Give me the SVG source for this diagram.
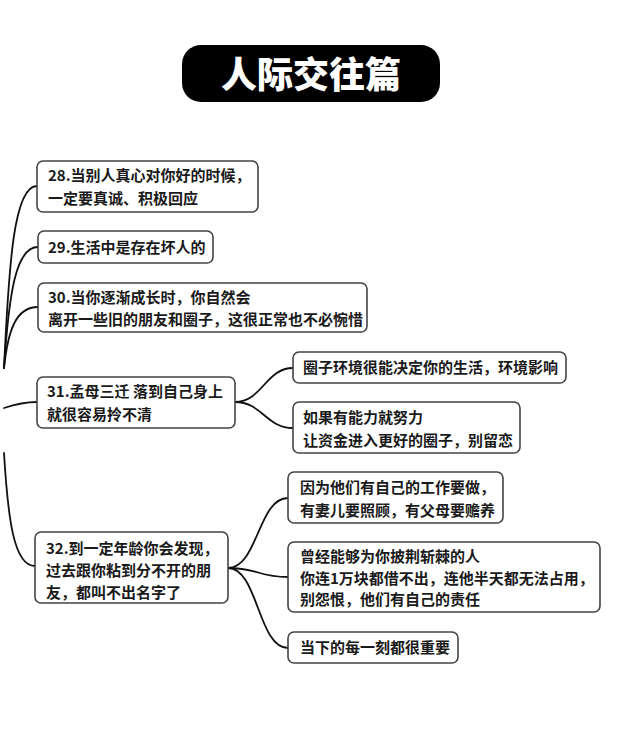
<svg xmlns="http://www.w3.org/2000/svg" width="623" height="746" viewBox="0 0 623 746">
<style>
.box{fill:#fff;stroke:#444;stroke-width:1.6}
.t{font-family:"Noto Sans CJK SC","Noto Sans",sans-serif;font-size:15px;font-weight:700;fill:#1a1a1a}
.c{fill:none;stroke:#111;stroke-width:1.8;stroke-linecap:round}
.title{font-family:"Noto Sans CJK SC",sans-serif;font-size:36px;font-weight:900;fill:#fff}
</style>
<rect width="623" height="746" fill="#fff"/>
<g id="title">
<rect x="182" y="45" width="258" height="57" rx="19" fill="#000"/>
<text class="title" x="311" y="88" text-anchor="middle">人际交往篇</text>
</g>
<g id="connectors">
<path class="c" d="M4,368 C9,262 14,186 37,186"/>
<path class="c" d="M4,368 C9,292 16,247 38,247"/>
<path class="c" d="M4,368 C8,330 16,307 38,307"/>
<path class="c" d="M4,408 C16,404 24,402 37,402"/>
<path class="c" d="M4,453 C8,520 14,566 35,566"/>
<path class="c" d="M235,402 C262,402 266,368 293,368"/>
<path class="c" d="M235,402 C262,402 266,428 293,428"/>
<path class="c" d="M228,568 C258,568 258,498 288,498"/>
<path class="c" d="M228,568 C258,568 258,577 288,577"/>
<path class="c" d="M228,568 C258,568 258,648 288,648"/>
</g>
<g id="n28">
<rect class="box" x="37" y="161" width="221" height="51" rx="6"/>
<text class="t" x="48" y="181">28.当别人真心对你好的时候，</text>
<text class="t" x="48" y="204">一定要真诚、积极回应</text>
</g>
<g id="n29">
<rect class="box" x="38" y="231" width="175" height="32" rx="6"/>
<text class="t" x="48" y="253">29.生活中是存在坏人的</text>
</g>
<g id="n30">
<rect class="box" x="38" y="283" width="329" height="49" rx="6"/>
<text class="t" x="48" y="303">30.当你逐渐成长时，你自然会</text>
<text class="t" x="48" y="325">离开一些旧的朋友和圈子，这很正常也不必惋惜</text>
</g>
<g id="n31">
<rect class="box" x="37" y="377" width="198" height="51" rx="6"/>
<text class="t" x="47" y="397">31.孟母三迁 落到自己身上</text>
<text class="t" x="47" y="420">就很容易拎不清</text>
</g>
<g id="n31a">
<rect class="box" x="293" y="352" width="273" height="31" rx="6"/>
<text class="t" x="303" y="373">圈子环境很能决定你的生活，环境影响</text>
</g>
<g id="n31b">
<rect class="box" x="293" y="402" width="227" height="51" rx="6"/>
<text class="t" x="303" y="423">如果有能力就努力</text>
<text class="t" x="303" y="446">让资金进入更好的圈子，别留恋</text>
</g>
<g id="n32">
<rect class="box" x="35" y="532" width="193" height="71" rx="6"/>
<text class="t" x="46" y="554">32.到一定年龄你会发现，</text>
<text class="t" x="46" y="576">过去跟你粘到分不开的朋</text>
<text class="t" x="46" y="598">友，都叫不出名字了</text>
</g>
<g id="n32a">
<rect class="box" x="288" y="472" width="215" height="51" rx="6"/>
<text class="t" x="300" y="493">因为他们有自己的工作要做，</text>
<text class="t" x="300" y="516">有妻儿要照顾，有父母要赡养</text>
</g>
<g id="n32b">
<rect class="box" x="288" y="542" width="312" height="70" rx="6"/>
<text class="t" x="300" y="562">曾经能够为你披荆斩棘的人</text>
<text class="t" x="300" y="584">你连1万块都借不出，连他半天都无法占用，</text>
<text class="t" x="300" y="605">别怨恨，他们有自己的责任</text>
</g>
<g id="n32c">
<rect class="box" x="288" y="632" width="170" height="31" rx="6"/>
<text class="t" x="300" y="653">当下的每一刻都很重要</text>
</g>
</svg>
